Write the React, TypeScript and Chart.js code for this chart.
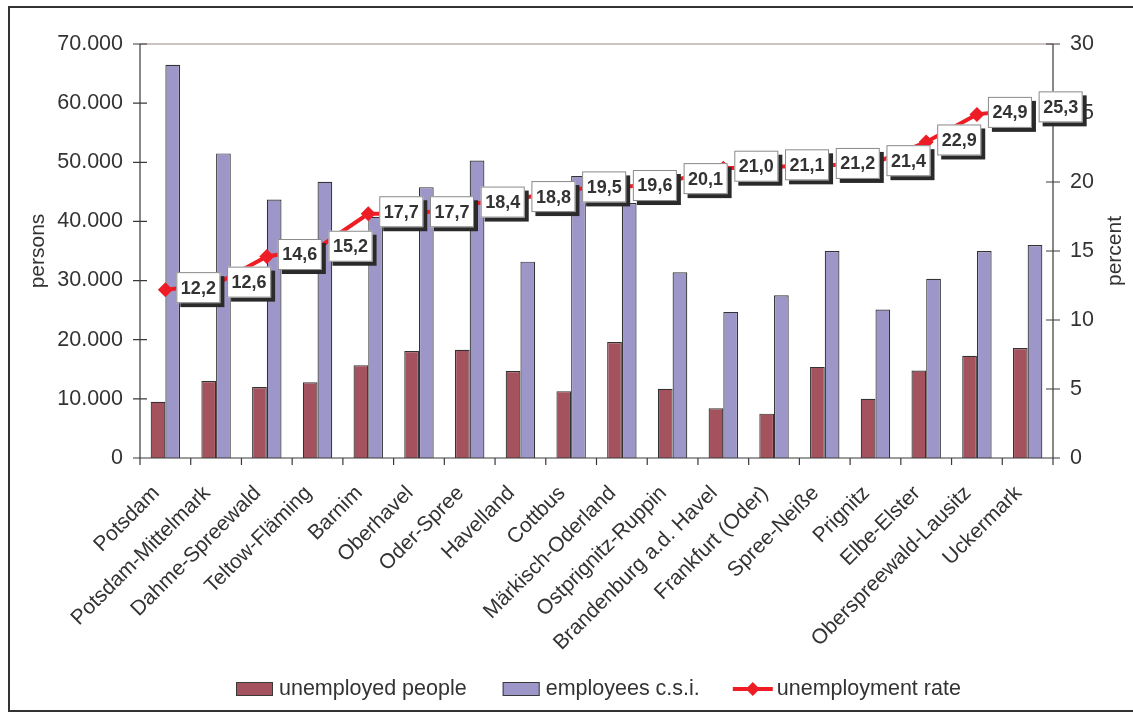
import React, { useEffect, useRef } from 'react';
import { Chart, registerables } from 'chart.js';

Chart.register(...registerables);

const districts = [
  'Potsdam', 'Potsdam-Mittelmark', 'Dahme-Spreewald', 'Teltow-Fläming', 'Barnim', 'Oberhavel',
  'Oder-Spree', 'Havelland', 'Cottbus', 'Märkisch-Oderland', 'Ostprignitz-Ruppin',
  'Brandenburg a.d. Havel', 'Frankfurt (Oder)', 'Spree-Neiße', 'Prignitz', 'Elbe-Elster',
  'Oberspreewald-Lausitz', 'Uckermark',
];
const unemployedPeople = [9500, 13000, 12000, 12800, 15700, 18100, 18300, 14700, 11300, 19600, 11700, 8400, 7500, 15400, 10000, 14800, 17300, 18600];
const employeesCsi = [66500, 51500, 43700, 46700, 40800, 45800, 50300, 33200, 47700, 43100, 31400, 24700, 27500, 35000, 25100, 30300, 35000, 36000];
const unemploymentRate = [12.2, 12.6, 14.6, 15.2, 17.7, 17.7, 18.4, 18.8, 19.5, 19.6, 20.1, 21.0, 21.1, 21.2, 21.4, 22.9, 24.9, 25.3];
const seriesNames = ['unemployed people', 'employees c.s.i.', 'unemployment rate'];
const leftTitle = 'persons';
const rightTitle = 'percent';

const FONT = '"Liberation Sans", Arial, Helvetica, sans-serif';
const TEXT = '#333333';
const RED_BAR = '#A5525F';
const BLUE_BAR = '#9D97C9';
const LINE = '#EE1D25';
const AXIS = '#3a3a3a';

const fmtThousands = (v: number) => String(Math.round(v)).replace(/\B(?=(\d{3})+(?!\d))/g, '.');
const fmtRate = (v: number) => v.toFixed(1).replace('.', ',');

const decorPlugin = {
  id: 'decor',
  beforeDraw(chart: any) {
    const { ctx, width, height } = chart;
    ctx.save();
    ctx.fillStyle = '#ffffff';
    ctx.fillRect(0, 0, width, height);
    ctx.restore();
  },
  afterDraw(chart: any) {
    const { ctx, chartArea } = chart;
    const { left, right, top, bottom } = chartArea;
    const yL = chart.scales.y;
    const yR = chart.scales.y1;
    const x = chart.scales.x;
    const n = districts.length;
    const step = x.getPixelForValue(1) - x.getPixelForValue(0);
    ctx.save();

    // plot top border
    ctx.strokeStyle = '#b9b0ae';
    ctx.lineWidth = 1.5;
    ctx.beginPath();
    ctx.moveTo(left, top);
    ctx.lineTo(right, top);
    ctx.stroke();

    // axis lines and ticks
    ctx.strokeStyle = AXIS;
    ctx.lineWidth = 1.2;
    ctx.beginPath();
    ctx.moveTo(left, top);
    ctx.lineTo(left, bottom);
    ctx.moveTo(right, top);
    ctx.lineTo(right, bottom);
    ctx.moveTo(left, bottom);
    ctx.lineTo(right, bottom);
    yL.ticks.forEach((t: any) => {
      const py = yL.getPixelForValue(t.value);
      ctx.moveTo(left - 7, py);
      ctx.lineTo(left + 7, py);
    });
    yR.ticks.forEach((t: any) => {
      const py = yR.getPixelForValue(t.value);
      ctx.moveTo(right - 7, py);
      ctx.lineTo(right + 7, py);
    });
    for (let i = 0; i <= n; i++) {
      const px = i < n ? x.getPixelForValue(i) - step / 2 : x.getPixelForValue(n - 1) + step / 2;
      ctx.moveTo(px, bottom);
      ctx.lineTo(px, bottom + 7);
    }
    ctx.stroke();

    // category labels (rotated 45°)
    ctx.fillStyle = TEXT;
    ctx.font = `21px ${FONT}`;
    ctx.textAlign = 'right';
    ctx.textBaseline = 'alphabetic';
    districts.forEach((name, i) => {
      const cx = x.getPixelForValue(i);
      ctx.save();
      ctx.translate(cx - 5, bottom + 36);
      ctx.rotate(-Math.PI / 4);
      ctx.fillText(name, 0, 0);
      ctx.restore();
    });

    // axis titles
    ctx.font = `21px ${FONT}`;
    ctx.textAlign = 'center';
    ctx.textBaseline = 'middle';
    const midY = (top + bottom) / 2;
    ctx.save();
    ctx.translate(38, midY);
    ctx.rotate(-Math.PI / 2);
    ctx.fillText(leftTitle, 0, 0);
    ctx.restore();
    ctx.save();
    ctx.translate(1115, midY);
    ctx.rotate(-Math.PI / 2);
    ctx.fillText(rightTitle, 0, 0);
    ctx.restore();

    // data labels
    const meta = chart.getDatasetMeta(2);
    ctx.font = `bold 18px ${FONT}`;
    meta.data.forEach((pt: any, i: number) => {
      const txt = fmtRate(unemploymentRate[i]);
      const w = ctx.measureText(txt).width + 9;
      const h = 31;
      const bx = pt.x + 11;
      const by = pt.y - 2 - h / 2;
      ctx.fillStyle = '#2a2a2a';
      ctx.fillRect(bx + 4, by + 4, w, h);
      ctx.fillStyle = '#ffffff';
      ctx.fillRect(bx, by, w, h);
      ctx.strokeStyle = '#8a8a8a';
      ctx.lineWidth = 1;
      ctx.strokeRect(bx + 0.5, by + 0.5, w - 1, h - 1);
      ctx.fillStyle = TEXT;
      ctx.textAlign = 'center';
      ctx.textBaseline = 'middle';
      ctx.fillText(txt, bx + w / 2, by + h / 2 + 1);
    });

    // legend
    ctx.font = `21.5px ${FONT}`;
    ctx.textAlign = 'left';
    ctx.textBaseline = 'middle';
    const ly = 689;
    let lx = 236;
    const swatches = [RED_BAR, BLUE_BAR];
    for (let i = 0; i < 2; i++) {
      ctx.fillStyle = swatches[i];
      ctx.fillRect(lx, ly - 7, 37, 14);
      ctx.strokeStyle = AXIS;
      ctx.lineWidth = 1;
      ctx.strokeRect(lx + 0.5, ly - 6.5, 36, 13);
      ctx.fillStyle = TEXT;
      ctx.fillText(seriesNames[i], lx + 43, ly);
      lx += 43 + ctx.measureText(seriesNames[i]).width + 36;
    }
    lx -= 3;
    ctx.strokeStyle = LINE;
    ctx.lineWidth = 4;
    ctx.beginPath();
    ctx.moveTo(lx, ly);
    ctx.lineTo(lx + 40, ly);
    ctx.stroke();
    ctx.fillStyle = LINE;
    ctx.beginPath();
    ctx.moveTo(lx + 20, ly - 7);
    ctx.lineTo(lx + 27, ly);
    ctx.lineTo(lx + 20, ly + 7);
    ctx.lineTo(lx + 13, ly);
    ctx.closePath();
    ctx.fill();
    ctx.fillStyle = TEXT;
    ctx.fillText(seriesNames[2], lx + 44, ly);

    // outer frame
    ctx.strokeStyle = '#333333';
    ctx.lineWidth = 2;
    ctx.strokeRect(9, 7, 1200, 704);

    ctx.restore();
  },
};

export default function App() {
  const canvasRef = useRef<HTMLCanvasElement | null>(null);

  useEffect(() => {
    if (!canvasRef.current) return;
    const chart = new Chart(canvasRef.current, {
      type: 'bar',
      data: {
        labels: districts,
        datasets: [
          {
            type: 'bar',
            label: seriesNames[0],
            data: unemployedPeople,
            backgroundColor: RED_BAR,
            borderColor: '#333333',
            borderWidth: 1.2,
            yAxisID: 'y',
            order: 2,
          },
          {
            type: 'bar',
            label: seriesNames[1],
            data: employeesCsi,
            backgroundColor: BLUE_BAR,
            borderColor: '#333333',
            borderWidth: 1.2,
            yAxisID: 'y',
            order: 2,
          },
          {
            type: 'line',
            label: seriesNames[2],
            data: unemploymentRate,
            borderColor: LINE,
            backgroundColor: LINE,
            borderWidth: 4,
            pointStyle: 'rectRot',
            pointRadius: 7.5,
            pointBackgroundColor: LINE,
            pointBorderColor: LINE,
            pointBorderWidth: 0,
            tension: 0,
            yAxisID: 'y1',
            order: 1,
          } as any,
        ],
      },
      options: {
        responsive: false,
        animation: false,
        layout: { padding: { top: 44, left: 0, right: 0, bottom: 0 } },
        datasets: {
          bar: { categoryPercentage: 0.58, barPercentage: 1 },
        } as any,
        plugins: {
          legend: { display: false },
          tooltip: { enabled: false },
          title: { display: false },
        },
        scales: {
          x: {
            type: 'category',
            offset: true,
            grid: { display: false, drawTicks: false, offset: true },
            border: { display: false },
            ticks: { display: false, autoSkip: false },
            afterFit: (scale: any) => { scale.height = 255; },
          },
          y: {
            position: 'left',
            min: 0,
            max: 70000,
            grid: { display: false, drawTicks: true, tickLength: 7 },
            border: { display: false },
            ticks: {
              stepSize: 10000,
              padding: 10,
              color: TEXT,
              font: { family: FONT, size: 21.5 },
              callback: (v: any) => fmtThousands(Number(v)),
            },
            afterFit: (scale: any) => { scale.width = 140; },
          },
          y1: {
            position: 'right',
            min: 0,
            max: 30,
            grid: { display: false, drawTicks: true, tickLength: 7 },
            border: { display: false },
            ticks: {
              stepSize: 5,
              padding: 10,
              color: TEXT,
              font: { family: FONT, size: 21.5 },
            },
            afterFit: (scale: any) => { scale.width = 80; },
          },
        },
      } as any,
      plugins: [decorPlugin],
    });
    return () => chart.destroy();
  }, []);

  return (
    <div style={{ position: 'absolute', left: 0, top: 0, width: 1133, height: 713, overflow: 'hidden', background: '#fff' }}>
      <canvas ref={canvasRef} width={1133} height={713} style={{ display: 'block' }} />
    </div>
  );
}
